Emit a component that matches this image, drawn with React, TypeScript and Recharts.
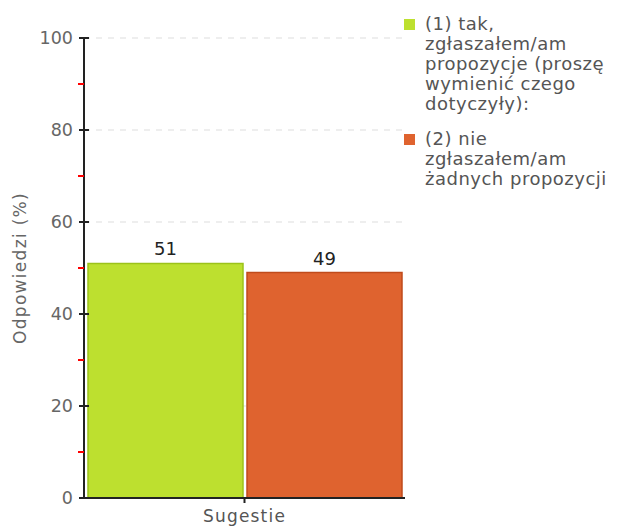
import { BarChart, Bar, XAxis, YAxis, CartesianGrid, LabelList, Label } from "recharts";

// categories and series
const categories = ["Sugestie"];
const seriesNames = [
    "(1) tak,\nzgłaszałem/am\npropozycje (proszę\nwymienić czego\ndotyczyły):",
    "(2) nie\nzgłaszałem/am\nżadnych propozycji",
];
const seriesValues = [[51], [49]];
const seriesColors = ["#bde02f", "#df632f"];
const seriesStrokes = ["#9cc21a", "#c04b1c"];
const yTicks = [0, 10, 20, 30, 40, 50, 60, 70, 80, 90, 100];
const gridValues = [20, 40, 60, 80, 100];

const data = categories.map((c, i) => {
    const row: any = { name: c };
    seriesValues.forEach((vals, s) => {
        row["s" + s] = vals[i];
    });
    return row;
});

const font = "'DejaVu Sans', Verdana, sans-serif";

function YTick(props: any) {
    const { x, y, payload } = props;
    const v = payload.value;
    const major = v % 20 === 0;
    if (!major) {
        return <line x1={x - 6} x2={x} y1={y} y2={y} stroke="#ff0000" strokeWidth={2} />;
    }
    return (
        <g>
            <line x1={x - 5} x2={x + 5} y1={y} y2={y} stroke="#222" strokeWidth={2} />
            <text x={x - 11} y={y} dy={6} textAnchor="end" fill="#666" fontSize={17.5} fontFamily={font}>
                {v}
            </text>
        </g>
    );
}

export default function App() {
    return (
        <div style={{ position: "fixed", left: 0, top: 0, width: 619, height: 527, overflow: "hidden", background: "#fff" }}>
            <BarChart
                width={619}
                height={527}
                data={data}
                margin={{ top: 38, right: 214, bottom: 0, left: 0 }}
                barCategoryGap={4}
                barGap={4}
            >
                <CartesianGrid
                    vertical={false}
                    horizontalValues={gridValues}
                    stroke="#dddddd"
                    strokeDasharray="6 6"
                />
                <XAxis
                    dataKey="name"
                    height={29}
                    axisLine={{ stroke: "#222", strokeWidth: 2 }}
                    tickLine={{ stroke: "#222", strokeWidth: 2 }}
                    tickSize={5}
                    tick={{ fill: "#555", fontSize: 17, fontFamily: font, letterSpacing: 1.2 }}
                    tickMargin={7}
                />
                <YAxis
                    width={84}
                    domain={[0, 100]}
                    ticks={yTicks}
                    interval={0}
                    tickSize={0}
                    tickMargin={0}
                    tickLine={false}
                    axisLine={{ stroke: "#222", strokeWidth: 2 }}
                    tick={<YTick />}
                >
                    <Label
                        value="Odpowiedzi (%)"
                        angle={-90}
                        position="center"
                        dx={-22}
                        fill="#666"
                        fontSize={17}
                        fontFamily={font}
                        letterSpacing={1.3}
                    />
                </YAxis>
                {seriesValues.map((_, s) => (
                    <Bar
                        key={s}
                        dataKey={"s" + s}
                        fill={seriesColors[s]}
                        stroke={seriesStrokes[s]}
                        strokeWidth={1.5}
                        isAnimationActive={false}
                    >
                        <LabelList
                            dataKey={"s" + s}
                            position="top"
                            offset={8}
                            fill="#222"
                            fontSize={18}
                            fontFamily={font}
                        />
                    </Bar>
                ))}
            </BarChart>
            <div style={{ position: "absolute", left: 404, top: 14, width: 215, fontFamily: font, fontSize: 18, color: "#555", letterSpacing: 0.5 }}>
                {seriesNames.map((n, s) => (
                    <div key={s} style={{ position: "relative", paddingLeft: 21, marginBottom: 15, lineHeight: "20px", whiteSpace: "pre" }}>
                        <span style={{ position: "absolute", left: 0, top: 5, width: 11, height: 11, background: seriesColors[s] }} />
                        {n}
                    </div>
                ))}
            </div>
        </div>
    );
}
